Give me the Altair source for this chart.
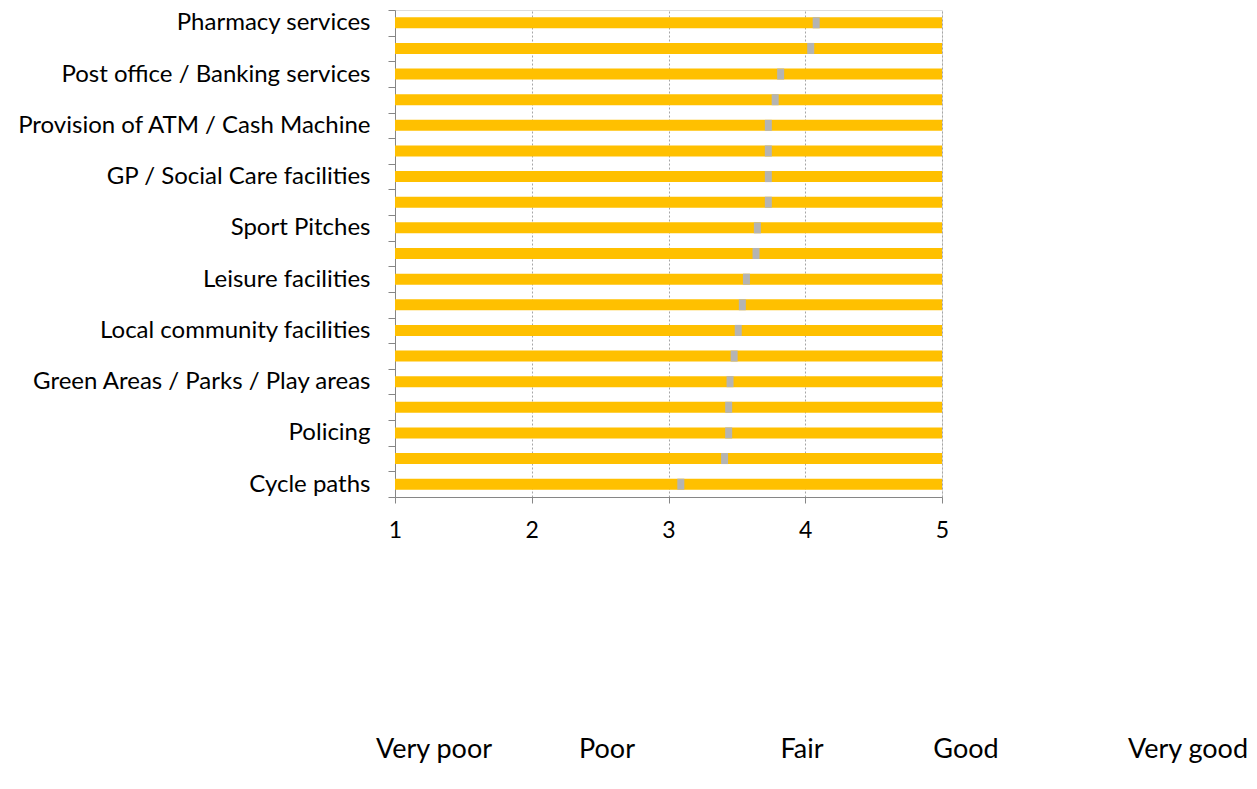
import json
import altair as alt
import pandas as pd

# Service rating survey: mean score per row on a 1-5 scale
labels = [
    "Pharmacy services", "",
    "Post office / Banking services", "",
    "Provision of ATM / Cash Machine", "",
    "GP / Social Care facilities", "",
    "Sport Pitches", "",
    "Leisure facilities", "",
    "Local community facilities", "",
    "Green Areas / Parks / Play areas", "",
    "Policing", "",
    "Cycle paths",
]
means = [
    4.08, 4.04, 3.82, 3.78, 3.73, 3.73, 3.73, 3.73, 3.65, 3.64,
    3.57, 3.54, 3.51, 3.48, 3.45, 3.44, 3.44, 3.41, 3.09,
]
scale_min, scale_max = 1, 5
scale_ticks = [1, 2, 3, 4, 5]
rating_words = ["Very poor", "Poor", "Fair", "Good", "Very good"]

df = pd.DataFrame({
    "row": list(range(len(means))),
    "mean": means,
    "lo": [scale_min] * len(means),
    "hi": [scale_max] * len(means),
})

FONT = "Lato"
W, H = 547, 487

label_expr = json.dumps(labels) + "[datum.value]"

y_enc = alt.Y(
    "row:O",
    title=None,
    scale=alt.Scale(paddingInner=0, paddingOuter=0),
    axis=alt.Axis(
        labelExpr=label_expr,
        tickBand="extent",
        tickSize=7,
        tickColor="#868686",
        domainColor="#868686",
        labelFont=FONT,
        labelFontSize=24,
        labelColor="#000000",
        labelPadding=18,
        labelLimit=0,
        grid=False,
    ),
)

x_scale = alt.Scale(domain=[scale_min, scale_max], nice=False, zero=False)

bars = alt.Chart(df).mark_bar(size=11, color="#FFC000").encode(
    y=y_enc,
    x=alt.X(
        "lo:Q",
        title=None,
        scale=x_scale,
        axis=alt.Axis(
            values=scale_ticks,
            format="d",
            tickSize=6,
            tickColor="#868686",
            domainColor="#868686",
            gridColor="#A6A6A6",
            gridDash=[2, 2],
            gridWidth=1,
            labelFont=FONT,
            labelFontSize=23,
            labelColor="#000000",
            labelPadding=16,
            labelFlush=False,
        ),
    ),
    x2="hi:Q",
)

marker = alt.Chart(df).mark_tick(
    color="#B4B4B4", thickness=7, size=11, opacity=1
).encode(
    y=alt.Y("row:O"),
    x=alt.X("mean:Q", scale=x_scale),
)

word_pos = [39, 212, 407, 571, 793]
words = alt.layer(*[
    alt.Chart(pd.DataFrame({"t": [w]})).mark_text(
        font=FONT, fontSize=27, color="#000000", align="center", baseline="middle"
    ).encode(text="t:N", x=alt.value(px), y=alt.value(740))
    for w, px in zip(rating_words, word_pos)
])

chart = alt.layer(bars, marker, words).properties(
    width=W,
    height=H,
    autosize=alt.AutoSizeParams(type="none"),
    padding={"left": 395, "top": 10, "right": 315, "bottom": 292},
).configure_view(stroke=None).configure(background="#FFFFFF")

chart.save("out.html", embed_options={"renderer": "svg", "actions": False})
